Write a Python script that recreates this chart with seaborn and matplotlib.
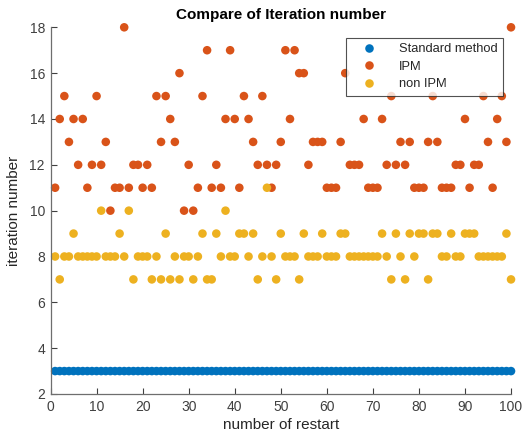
import numpy as np
import pandas as pd
import matplotlib
matplotlib.use("Agg")
import matplotlib.pyplot as plt
import seaborn as sns

restart = list(range(1, 101))
standard = [3] * 100
ipm = [11, 14, 15, 13, 14, 12, 14, 11, 12, 15,
       12, 13, 10, 11, 11, 18, 11, 12, 12, 11,
       12, 11, 15, 13, 15, 14, 13, 16, 10, 12,
       10, 11, 15, 17, 11, 12, 11, 14, 17, 14,
       11, 15, 14, 13, 12, 15, 12, 11, 12, 13,
       17, 14, 17, 16, 16, 12, 13, 13, 13, 11,
       11, 11, 13, 16, 12, 12, 12, 14, 11, 11,
       11, 14, 12, 15, 12, 13, 12, 13, 11, 11,
       11, 13, 15, 13, 11, 11, 11, 12, 12, 14,
       11, 12, 12, 15, 13, 11, 14, 15, 13, 18]
non_ipm = [8, 7, 8, 8, 9, 8, 8, 8, 8, 8,
           10, 8, 8, 8, 9, 8, 10, 7, 8, 8,
           8, 7, 8, 7, 9, 7, 8, 7, 8, 8,
           7, 8, 9, 7, 7, 9, 8, 10, 8, 8,
           9, 9, 8, 9, 7, 8, 11, 8, 7, 9,
           8, 8, 8, 7, 9, 8, 8, 8, 9, 8,
           8, 8, 9, 9, 8, 8, 8, 8, 8, 8,
           8, 9, 8, 7, 9, 8, 7, 9, 8, 9,
           9, 7, 9, 9, 8, 8, 9, 8, 8, 9,
           9, 9, 8, 8, 8, 8, 8, 8, 9, 7]
series_names = ["Standard method", "IPM", "non IPM"]
colors = ["#0072BD", "#D95319", "#EDB120"]
x_ticks = list(range(0, 101, 10))
y_ticks = list(range(2, 19, 2))

df = pd.DataFrame({
    "restart": restart * 3,
    "iterations": standard + ipm + non_ipm,
    "method": [series_names[0]] * 100 + [series_names[1]] * 100 + [series_names[2]] * 100,
})

sns.set_theme(style="ticks")
plt.rcParams["font.family"] = ["Liberation Sans", "DejaVu Sans"]

fig = plt.figure(figsize=(5.23, 4.42), dpi=100)
ax = fig.add_axes([0.0966, 0.1086, 0.8805, 0.8296])

sns.scatterplot(data=df, x="restart", y="iterations", hue="method",
                hue_order=series_names, palette=colors, s=38,
                edgecolor="none", linewidth=0, ax=ax, clip_on=False)

ax.set_xlim(0, 100)
ax.set_ylim(2, 18)
ax.set_xticks(x_ticks)
ax.set_yticks(y_ticks)
ax.tick_params(direction="in", length=4, width=0.8, labelsize=10,
               colors="#404040", pad=4)
for side in ["top", "right"]:
    ax.spines[side].set_visible(False)
for side in ["left", "bottom"]:
    ax.spines[side].set_color("#6e6e6e")
    ax.spines[side].set_linewidth(0.9)

ax.set_xlabel("number of restart", fontsize=11, color="#262626", labelpad=3)
ax.set_ylabel("iteration number", fontsize=11, color="#262626", labelpad=6)
ax.set_title("Compare of Iteration number", fontsize=11, fontweight="bold",
             color="black", pad=6)

leg = ax.legend(loc="upper right", bbox_to_anchor=(0.983, 0.972), fontsize=9.3,
                frameon=True, fancybox=False, borderpad=0.45, labelspacing=0.42,
                handlelength=2.6, handletextpad=1.0, borderaxespad=0,
                markerscale=1.0)
leg.get_frame().set_edgecolor("#262626")
leg.get_frame().set_linewidth(0.8)
for t in leg.get_texts():
    t.set_color("#262626")

fig.savefig("out.png", dpi=100)
